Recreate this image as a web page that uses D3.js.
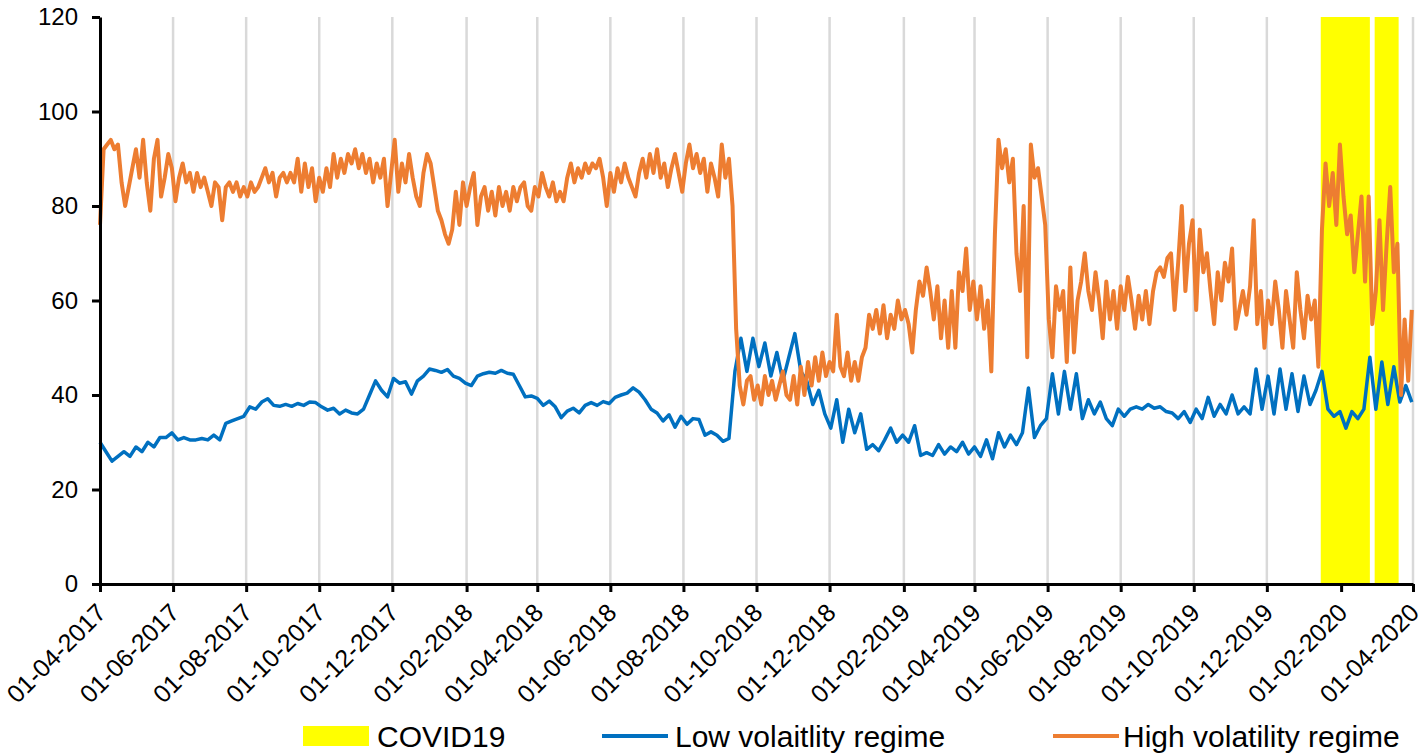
<!DOCTYPE html>
<html>
<head>
<meta charset="utf-8">
<script src="https://cdn.jsdelivr.net/npm/d3@7"></script>
<style>
  body { margin: 0; background: #fff; }
  text { font-family: "Liberation Sans", Arial, sans-serif; }
</style>
</head>
<body>
<svg id="chart" width="1425" height="756"></svg>
<script>
// readings start at 01-04-2017; low regime every 5 days, high regime every 3 days
var startDate = '2017-04-01';
var lowStepDays = 5;
var highStepDays = 3;

var lowVol = [
  30, 28, 26, 27, 28, 27, 29, 28, 30, 29,
  31, 31, 32, 30.5, 31, 30.5, 30.5, 30.8, 30.5, 31.5,
  30.5, 34, 34.5, 35, 35.5, 37.5, 37, 38.5, 39.2, 37.8,
  37.6, 38, 37.6, 38.2, 37.8, 38.5, 38.4, 37.5, 36.8, 37.2,
  36, 36.8, 36.2, 36, 37, 40, 43, 41, 39.6, 43.5,
  42.5, 42.8, 40.2, 43, 44, 45.5, 45.2, 44.8, 45.4, 44,
  43.5, 42.5, 42, 44, 44.5, 44.8, 44.6, 45.2, 44.6, 44.4,
  42, 39.6, 39.8, 39.3, 37.8, 38.7, 37.5, 35.2, 36.6, 37.2,
  36.2, 37.8, 38.4, 37.8, 38.6, 38.2, 39.5, 40, 40.4, 41.5,
  40.6, 39, 37, 36.2, 34.5, 35.8, 33.2, 35.5, 33.8, 35,
  34.8, 31.5, 32.2, 31.5, 30.2, 30.8, 45, 52, 45, 52,
  46, 51, 44, 49, 43, 48, 53, 45, 43, 38,
  41, 36, 33, 39, 30, 37, 32, 36, 28.5, 29.5,
  28.2, 30.5, 33, 30, 31.5, 30, 33.5, 27.2, 27.8, 27.2,
  29.5, 27.5, 29, 28, 30, 27.5, 29, 27, 30.5, 26.5,
  32, 29, 31.5, 29.5, 32, 41.5, 31, 33.5, 35, 44.5,
  36, 45, 37, 44.5, 35, 39, 36, 38.5, 35, 33.5,
  37, 35.5, 37, 37.5, 37, 38, 37.2, 37.5, 36.5, 36.2,
  35, 36.5, 34.2, 37, 35, 39.5, 35.5, 38, 36, 40,
  36, 37.5, 36, 45.5, 37, 44, 36, 45.5, 37, 44.5,
  36.5, 44, 38, 41, 45, 37, 35.5, 36.5, 33, 36.5,
  35, 37, 48, 37, 47, 38, 46, 38.5, 42, 38.5
];

var highVol = [
  76, 92, 93, 94, 92, 93, 85, 80, 84, 88,
  92, 86, 94, 85, 79, 90, 94, 82, 86, 91,
  88, 81, 86, 89, 85, 87, 83, 87, 84, 86,
  83, 80, 85, 84, 77, 84, 85, 83, 85, 82,
  84, 82, 85, 83, 84, 86, 88, 85, 87, 82,
  86, 87, 85, 87, 85, 90, 83, 89, 84, 88,
  81, 86, 83, 88, 84, 91, 86, 90, 87, 91,
  89, 92, 88, 91, 87, 90, 85, 89, 86, 90,
  80, 87, 94, 83, 89, 85, 91, 86, 82, 80,
  87, 91, 89, 84, 79, 77, 74, 72, 75, 83,
  76, 85, 80, 84, 87, 76, 82, 84, 79, 83,
  78, 84, 80, 83, 79, 84, 81, 84, 85, 80,
  79, 84, 82, 87, 84, 82, 85, 81, 83, 81,
  86, 89, 85, 88, 86, 89, 87, 89, 88, 90,
  86, 80, 87, 83, 88, 85, 89, 86, 84, 82,
  87, 90, 86, 91, 87, 92, 86, 89, 84, 88,
  91, 87, 83, 89, 93, 88, 91, 87, 90, 83,
  89, 86, 82, 93, 86, 90, 80, 54, 42, 38,
  43, 44, 39, 42, 38, 44, 40, 43, 39, 42,
  45, 40, 39, 44, 38, 46, 40, 47, 42, 48,
  43, 49, 44, 47, 45, 57, 46, 44, 49, 43,
  47, 43, 48, 50, 57, 54, 58, 53, 59, 52,
  57, 54, 60, 56, 58, 55, 49, 58, 64, 61,
  67, 62, 56, 63, 52, 60, 50, 62, 50, 66,
  62, 71, 58, 64, 56, 63, 54, 60, 45, 74,
  94, 88, 92, 85, 90, 70, 62, 80, 48, 93,
  86, 88, 82, 76, 56, 48, 63, 58, 62, 47,
  67, 49, 60, 64, 70, 62, 58, 66, 60, 52,
  64, 56, 62, 54, 63, 58, 65, 60, 54, 61,
  56, 62, 55, 62, 66, 67, 65, 69, 70, 58,
  68, 80, 62, 72, 77, 58, 75, 66, 70, 62,
  55, 66, 60, 68, 64, 71, 54, 58, 62, 57,
  63, 77, 55, 62, 50, 60, 55, 64, 58, 50,
  62, 56, 50, 66, 58, 52, 61, 56, 60, 46,
  75, 89, 80, 87, 76, 93, 82, 74, 78, 66,
  74, 82, 64, 82, 55, 62, 77, 58, 72, 84,
  66, 72, 40, 56, 43, 58
];

var covidPeriods = [
  ['2020-01-15', '2020-02-25'],
  ['2020-02-29', '2020-03-20']
];

var yTicks = [0, 20, 40, 60, 80, 100, 120];
var xStart = '2017-04-01', xEnd = '2020-04-01';

var legendItems = [
  {label: 'COVID19', type: 'rect', color: '#ffff00'},
  {label: 'Low volaitlity regime', type: 'line', color: '#0070c0'},
  {label: 'High volatility regime', type: 'line', color: '#ed7d31'}
];

var parse = d3.timeParse('%Y-%m-%d');
var margin = {left: 100, top: 17, right: 12, bottom: 172};
var width = 1425, height = 756;

var svg = d3.select('#chart');

var x = d3.scaleTime()
  .domain([parse(xStart), parse(xEnd)])
  .range([margin.left, width - margin.right]);
var y = d3.scaleLinear()
  .domain([0, 120])
  .range([height - margin.bottom, margin.top]);

var t0 = parse(startDate);
function toPoints(values, step) {
  return values.map(function (v, i) {
    return {date: d3.timeDay.offset(t0, i * step), value: v};
  });
}

// a tick every two months from 01-04-2017
var xTickDates = d3.timeMonth.range(parse(xStart), d3.timeDay.offset(parse(xEnd), 1), 2);

// vertical grid lines
svg.append('g').selectAll('line')
  .data(xTickDates.slice(1))
  .enter().append('line')
  .attr('x1', function (d) { return x(d); })
  .attr('x2', function (d) { return x(d); })
  .attr('y1', y(120))
  .attr('y2', y(0))
  .attr('stroke', '#d9d9d9')
  .attr('stroke-width', 2.5);

// covid shading
svg.append('g').selectAll('rect')
  .data(covidPeriods)
  .enter().append('rect')
  .attr('x', function (d) { return x(parse(d[0])); })
  .attr('width', function (d) { return x(parse(d[1])) - x(parse(d[0])); })
  .attr('y', y(120))
  .attr('height', y(0) - y(120))
  .attr('fill', '#ffff00');

var line = d3.line()
  .x(function (d) { return x(d.date); })
  .y(function (d) { return y(d.value); });

svg.append('path')
  .datum(toPoints(lowVol, lowStepDays))
  .attr('d', line)
  .attr('fill', 'none')
  .attr('stroke', '#0070c0')
  .attr('stroke-width', 3.5)
  .attr('stroke-linejoin', 'round');

svg.append('path')
  .datum(toPoints(highVol, highStepDays))
  .attr('d', line)
  .attr('fill', 'none')
  .attr('stroke', '#ed7d31')
  .attr('stroke-width', 4)
  .attr('stroke-linejoin', 'round');

// axes
var yAxis = svg.append('g')
  .attr('transform', 'translate(' + margin.left + ',0)')
  .call(d3.axisLeft(y).tickValues(yTicks).tickSize(8).tickSizeOuter(0).tickPadding(14));

var xAxis = svg.append('g')
  .attr('transform', 'translate(0,' + y(0) + ')')
  .call(d3.axisBottom(x).tickValues(xTickDates).tickFormat(d3.timeFormat('%d-%m-%Y'))
    .tickSize(8).tickSizeOuter(0));

[yAxis, xAxis].forEach(function (a) {
  a.select('.domain').attr('stroke', '#000').attr('stroke-width', 3);
  a.selectAll('.tick line').attr('stroke', '#000').attr('stroke-width', 3);
  a.selectAll('text').attr('fill', '#000').style('font-size', '24px');
});

xAxis.selectAll('.tick text')
  .style('font-size', '25px')
  .attr('text-anchor', 'end')
  .attr('y', 0)
  .attr('dy', '0.35em')
  .attr('transform', 'translate(1,24) rotate(-45)');

// legend
var legend = svg.append('g').attr('transform', 'translate(0,736)');
var legendX = [303, 602, 1053];
var legendTextX = [74, 73, 70];
legendItems.forEach(function (item, i) {
  var g = legend.append('g').attr('transform', 'translate(' + legendX[i] + ',0)');
  if (item.type === 'rect') {
    g.append('rect').attr('x', 0).attr('y', -10).attr('width', 66).attr('height', 20).attr('fill', item.color);
  } else {
    g.append('line').attr('x1', 0).attr('x2', 66).attr('y1', 0).attr('y2', 0)
      .attr('stroke', item.color).attr('stroke-width', 4);
  }
  g.append('text')
    .attr('x', legendTextX[i])
    .attr('y', 0)
    .attr('dy', '0.35em')
    .style('font-size', '30px')
    .attr('fill', '#000')
    .text(item.label);
});
</script>
</body>
</html>
